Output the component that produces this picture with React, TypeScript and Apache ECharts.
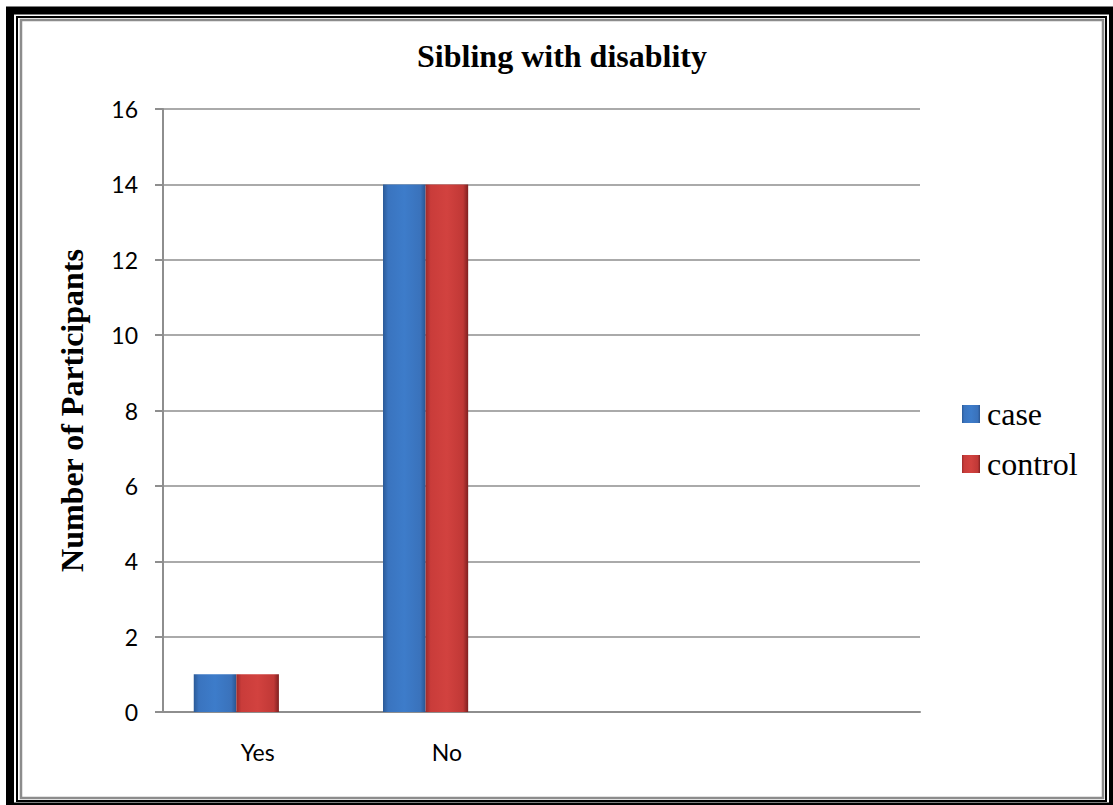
import React, { useEffect, useRef } from "react";
import * as echarts from "echarts";

const categories = ["Yes", "No", "", ""];
const caseValues: (number | null)[] = [1, 14, null, null];
const controlValues: (number | null)[] = [1, 14, null, null];
const blankValues: (number | null)[] = [null, null, null, null];
const yTicks = { min: 0, max: 16, interval: 2 };

const blueGrad = new echarts.graphic.LinearGradient(0, 0, 1, 0, [
  { offset: 0, color: "#2b5a97" },
  { offset: 0.12, color: "#3a74bf" },
  { offset: 0.5, color: "#3d7cca" },
  { offset: 0.88, color: "#3a72bb" },
  { offset: 1, color: "#2a5590" },
]);
const redGrad = new echarts.graphic.LinearGradient(0, 0, 1, 0, [
  { offset: 0, color: "#9e2b2a" },
  { offset: 0.12, color: "#c93c3a" },
  { offset: 0.5, color: "#d2423f" },
  { offset: 0.88, color: "#c03836" },
  { offset: 1, color: "#7f2020" },
]);

export default function App() {
  const ref = useRef<HTMLDivElement>(null);
  useEffect(() => {
    if (!ref.current) return;
    const chart = echarts.init(ref.current, null, { renderer: "svg" });
    const axisColor = "#8e8e8e";
    chart.setOption({
      animation: false,
      backgroundColor: "#ffffff",
      title: {
        text: "Sibling with disablity",
        left: 557,
        textAlign: "center",
        top: 35,
        textStyle: {
          fontFamily: "Liberation Serif",
          fontWeight: "bold",
          fontSize: 32,
          color: "#000",
        },
      },
      grid: { left: 163, right: 193, top: 109, bottom: 93 },
      legend: {
        orient: "vertical",
        left: 962,
        top: 397,
        padding: 0,
        data: ["case", "control"],
        itemWidth: 18,
        itemHeight: 18,
        itemGap: 16,
        icon: "rect",
        textStyle: {
          fontFamily: "Liberation Serif",
          fontSize: 32,
          color: "#000",
          lineHeight: 34,
          padding: [0, 0, 0, 2],
        },
      },
      xAxis: {
        type: "category",
        data: categories,
        axisLine: { show: true, lineStyle: { color: axisColor, width: 2 } },
        axisTick: { show: false },
        axisLabel: {
          margin: 28,
          fontFamily: "Lato",
          fontSize: 23,
          color: "#000",
        },
      },
      yAxis: {
        type: "value",
        min: yTicks.min,
        max: yTicks.max,
        interval: yTicks.interval,
        name: "Number of Participants",
        nameLocation: "middle",
        nameGap: 75,
        nameTextStyle: {
          fontFamily: "Liberation Serif",
          fontWeight: "bold",
          fontSize: 32,
          color: "#000",
        },
        axisLine: { show: true, lineStyle: { color: axisColor, width: 2 } },
        axisTick: { show: true, length: 8, lineStyle: { color: axisColor, width: 2 } },
        splitLine: { show: true, lineStyle: { color: axisColor, width: 1.5 } },
        axisLabel: {
          margin: 25,
          fontFamily: "Lato",
          fontSize: 23,
          color: "#000",
        },
      },
      series: [
        {
          name: "case",
          type: "bar",
          data: caseValues,
          barGap: "0%",
          barCategoryGap: "32.5%",
          itemStyle: { color: blueGrad },
        },
        {
          name: "control",
          type: "bar",
          data: controlValues,
          barGap: "0%",
          barCategoryGap: "32.5%",
          itemStyle: { color: redGrad },
        },
        {
          name: "blank",
          type: "bar",
          data: blankValues,
          barGap: "0%",
          barCategoryGap: "32.5%",
          itemStyle: { color: "#ffffff" },
        },
      ],
      graphic: [
        {
          type: "rect",
          shape: { x: 10, y: 10.5, width: 1103, height: 796 },
          style: { fill: "none", stroke: "#000", lineWidth: 8 },
          silent: true,
        },
        {
          type: "rect",
          shape: { x: 17, y: 17, width: 1089, height: 784 },
          style: { fill: "none", stroke: "#000", lineWidth: 2 },
          silent: true,
        },
        {
          type: "rect",
          shape: { x: 21, y: 20, width: 1082, height: 778 },
          style: { fill: "none", stroke: "#8c8c8c", lineWidth: 2.5 },
          silent: true,
        },
      ],
    });
    return () => chart.dispose();
  }, []);
  return (
    <div
      ref={ref}
      style={{ position: "fixed", left: 0, top: 0, width: 1113, height: 805 }}
    />
  );
}
